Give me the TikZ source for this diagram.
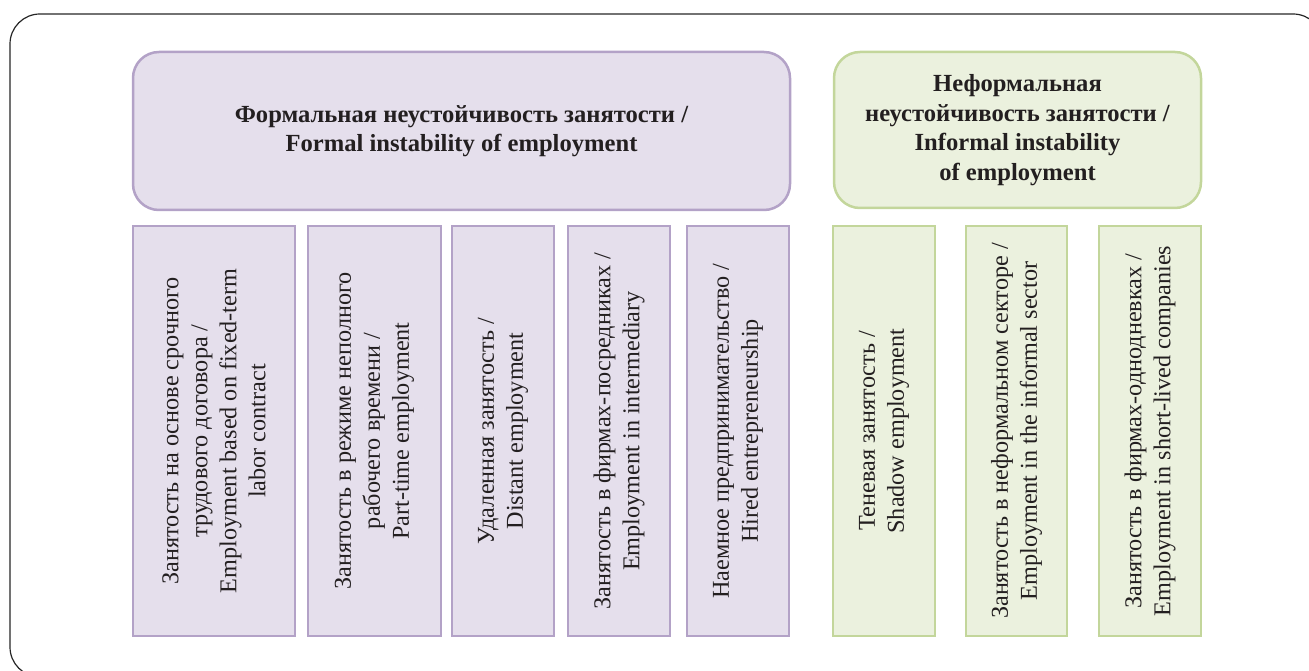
\documentclass[tikz,border=0pt]{standalone}
\usepackage{fontspec}
\setmainfont{Liberation Serif}
\definecolor{pfill}{HTML}{E5DFEC}
\definecolor{pline}{HTML}{B3A2C7}
\definecolor{gfill}{HTML}{EBF1DE}
\definecolor{gline}{HTML}{C3D69B}
\definecolor{txt}{HTML}{231F20}
\begin{document}
\begin{tikzpicture}[x=1pt,y=-1pt,
  frame/.style={draw=black!85, line width=1.2pt, rounded corners=30pt},
  head/.style={draw, line width=2.5pt, rounded corners=26pt, inner sep=0pt, align=center, text=txt,
    font=\fontsize{24.6}{29.5}\selectfont\bfseries},
  fhead/.style={head, fill=pfill, draw=pline},
  ghead/.style={head, fill=gfill, draw=gline},
  sub/.style={draw, line width=2.5pt, rotate=90, minimum width=410pt, inner sep=0pt, align=center, text=txt,
    font=\fontsize{24.2}{29}\selectfont},
  fsub/.style={sub, fill=pfill, draw=pline},
  gsub/.style={sub, fill=gfill, draw=gline}]
\useasboundingbox (0,0) rectangle (1309,671);
\begin{scope}
\clip (0,0) rectangle (1309,671);
\draw[frame] (10,14) rectangle (1323,677);
\end{scope}

\node[fhead, minimum width=657pt, minimum height=158pt] (F) at (461.5,131)
  {Формальная неустойчивость занятости /\\Formal instability of employment};
\node[ghead, minimum width=367pt, minimum height=156pt] (G) at (1017.5,130)
  {Неформальная\\неустойчивость занятости /\\Informal instability\\of employment};

\node[fsub, minimum height=162pt] (f1) at (214,431)
  {Занятость на основе срочного\\трудового договора /\\Employment based on fixed-term\\labor contract};
\node[fsub, minimum height=133pt] (f2) at (374.5,431)
  {Занятость в режиме неполного\\рабочего времени /\\Part-time employment};
\node[fsub, minimum height=102pt] (f3) at (503,431)
  {Удаленная занятость /\\Distant employment};
\node[fsub, minimum height=102pt] (f4) at (619,431)
  {Занятость в фирмах-посредниках /\\Employment in intermediary};
\node[fsub, minimum height=102pt] (f5) at (738,431)
  {Наемное предпринимательство /\\Hired entrepreneurship};

\node[gsub, minimum height=102pt] (g1) at (884,431)
  {Теневая занятость /\\Shadow employment};
\node[gsub, minimum height=101pt] (g2) at (1016.5,431)
  {Занятость в неформальном секторе /\\Employment in the informal sector};
\node[gsub, minimum height=102pt] (g3) at (1150,431)
  {Занятость в фирмах-однодневках /\\Employment in short-lived companies};
\end{tikzpicture}
\end{document}
